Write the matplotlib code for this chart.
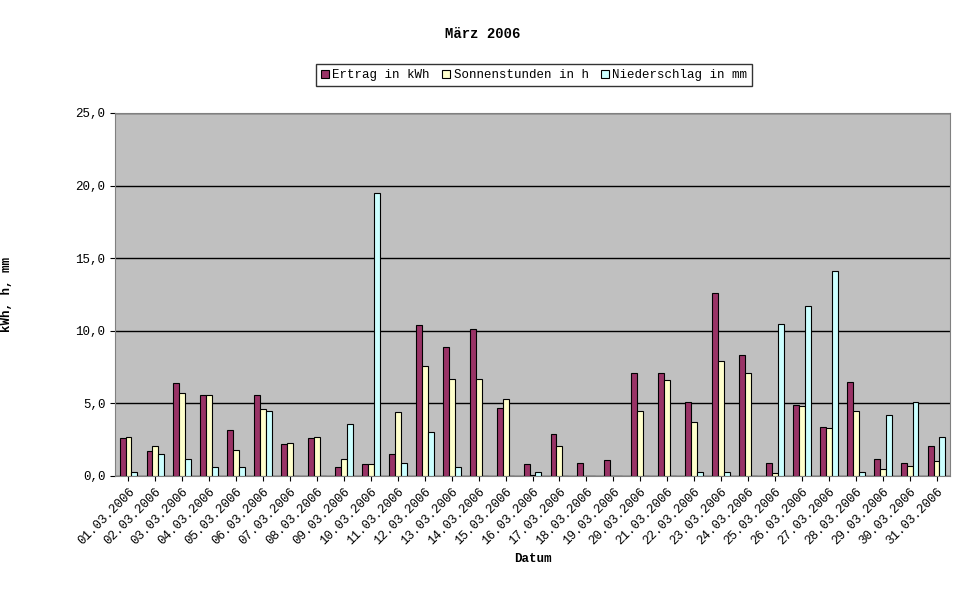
import matplotlib
matplotlib.use("Agg")
import matplotlib.pyplot as plt
import numpy as np

dates = [f"{d:02d}.03.2006" for d in range(1, 32)]
ertrag = [2.6,1.7,6.4,5.6,3.2,5.6,2.2,2.6,0.6,0.8,1.5,10.4,8.9,10.1,4.7,0.8,2.9,0.9,1.1,7.1,7.1,5.1,12.6,8.3,0.9,4.9,3.4,6.5,1.2,0.9,2.1]
sonne = [2.7,2.1,5.7,5.6,1.8,4.6,2.3,2.7,1.2,0.8,4.4,7.6,6.7,6.7,5.3,0.1,2.1,0,0,4.5,6.6,3.7,7.9,7.1,0.2,4.8,3.3,4.5,0.5,0.7,1.0]
regen = [0.3,1.5,1.2,0.6,0.6,4.5,0,0,3.6,19.5,0.9,3.0,0.6,0,0,0.3,0,0,0,0,0,0.3,0.3,0,10.5,11.7,14.1,0.3,4.2,5.1,2.7]

plt.rcParams['font.family'] = ['Liberation Mono', 'DejaVu Sans Mono']
fig = plt.figure(figsize=(9.66, 6.03), dpi=100)
ax = fig.add_axes([115/966, (603-476)/603, 835/966, 363/603])
ax.set_facecolor('#C0C0C0')
x = np.arange(len(dates))
w = 0.22
ax.bar(x - w, ertrag, w, color='#993366', edgecolor='black', lw=0.8, label='Ertrag in kWh', zorder=3)
ax.bar(x, sonne, w, color='#FFFFCC', edgecolor='black', lw=0.8, label='Sonnenstunden in h', zorder=3)
ax.bar(x + w, regen, w, color='#CCFFFF', edgecolor='black', lw=0.8, label='Niederschlag in mm', zorder=3)
ax.set_xlim(-0.5, len(dates) - 0.5)
ax.set_ylim(0, 25)
ax.set_yticks(np.arange(0, 26, 5))
ax.set_yticklabels([f"{v:.1f}".replace('.', ',') for v in np.arange(0, 26, 5)], fontsize=9)
ax.yaxis.grid(True, color='black', lw=1, zorder=1)
ax.set_xticks(x)
ax.set_xticklabels(dates, rotation=45, ha='right', rotation_mode='anchor', fontsize=9)
ax.set_xlabel('Datum', fontsize=9, fontweight='bold')
ax.set_ylabel('kWh, h, mm', fontsize=9, fontweight='bold', labelpad=45)
for s in ax.spines.values():
    s.set_color('#808080')
fig.suptitle('März 2006', y=0.955, fontsize=10, fontweight='bold')
leg = fig.legend(loc='center', bbox_to_anchor=(0.553, 0.875), ncol=3, fontsize=9,
                 frameon=True, fancybox=False, edgecolor='black', handlelength=0.6,
                 handletextpad=0.3, columnspacing=1.0, borderpad=0.4)
fig.savefig('out.png', dpi=100)
